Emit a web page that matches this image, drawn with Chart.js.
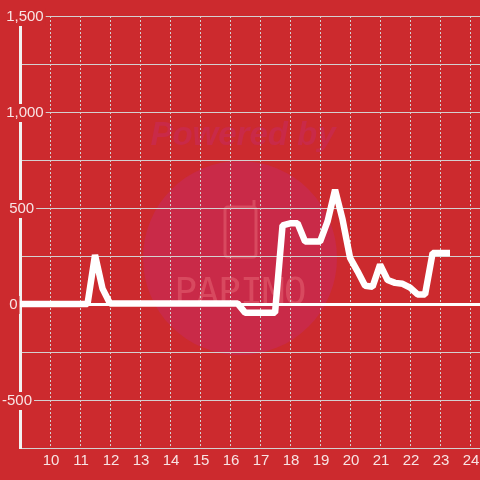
<!DOCTYPE html>
<html lang="en">
<head>
  <meta charset="UTF-8" />
  <title>Chart</title>
  <script src="https://cdn.jsdelivr.net/npm/chart.js"></script>
  <style>
    html, body { margin: 0; padding: 0; background: #cc2a2e; }
    canvas { display: block; }
  </style>
</head>
<body>
  <canvas id="chart" width="480" height="480"></canvas>
  <script>
    const hours = [8.75, 11.25, 11.5, 11.75, 12, 16.25, 16.5, 17.5, 17.75, 18, 18.25, 18.5, 19, 19.25, 19.5, 19.75, 20, 20.25, 20.5, 20.75, 21, 21.25, 21.5, 21.75, 22, 22.25, 22.5, 22.75, 23, 23.33];
    const values = [0, 0, 255, 80, 3, 3, -45, -45, 410, 420, 420, 325, 325, 430, 595, 440, 240, 170, 95, 90, 205, 125, 110, 105, 85, 50, 50, 265, 265, 265];
    const yLabels = { '1500': ' 1,500', '1000': ' 1,000', '500': ' \u2009500', '0': ' \u20090', '-500': '-500' };

    const bg = '#cc2a2e';
    const gridColor = '#d4d0d0';
    const textColor = '#f8e4e4';

    // faint logo behind the grid
    const watermark = {
      id: 'watermark',
      beforeDraw(chart) {
        const ctx = chart.ctx;
        ctx.save();
        ctx.fillStyle = bg;
        ctx.fillRect(0, 0, 480, 480);

        ctx.fillStyle = '#c92a48';
        ctx.beginPath();
        ctx.arc(240, 258, 97, 0, Math.PI * 2);
        ctx.fill();

        ctx.font = 'italic bold 33px "Liberation Sans"';
        ctx.textAlign = 'center';
        ctx.textBaseline = 'alphabetic';
        ctx.fillText('Powered by', 243, 145);

        ctx.strokeStyle = '#d8495f';
        ctx.lineWidth = 3;
        ctx.beginPath();
        ctx.roundRect(225, 207, 31, 50, 3);
        ctx.moveTo(254, 207);
        ctx.lineTo(254, 200);
        ctx.stroke();

        ctx.fillStyle = '#d8495f';
        ctx.font = '38px "DejaVu Sans Mono"';
        ctx.letterSpacing = '-1px';
        ctx.fillText('PAPIMO', 240, 304);
        ctx.restore();
      }
    };

    new Chart(document.getElementById('chart'), {
      type: 'line',
      data: {
        datasets: [{
          data: hours.map((h, i) => ({ x: h, y: values[i] })),
          borderColor: '#ffffff',
          borderWidth: 6.5,
          borderJoinStyle: 'bevel',
          pointRadius: 0,
          tension: 0,
          fill: false,
          clip: false
        }]
      },
      options: {
        responsive: false,
        animation: false,
        layout: { padding: { top: 16 } },
        plugins: { legend: { display: false }, tooltip: { enabled: false } },
        scales: {
          x: {
            type: 'linear',
            min: 9,
            max: 24.33,
            afterFit(scale) {
              scale.height = 32;
              scale.paddingLeft = 0;
              scale.paddingRight = 0;
            },
            border: { display: false, dash: [2, 2] },
            grid: {
              color: ctx => ctx.tick && ctx.tick.value === 9 ? 'transparent' : gridColor,
              lineWidth: 1,
              drawTicks: false
            },
            ticks: {
              stepSize: 1,
              includeBounds: false,
              maxRotation: 0,
              autoSkip: false,
              padding: 4,
              labelOffset: 1,
              color: textColor,
              font: { family: '"Liberation Sans"', size: 15 },
              callback: v => v === 9 ? '' : String(v)
            }
          },
          y: {
            min: -750,
            max: 1500,
            afterFit(scale) { scale.width = 20; },
            border: { display: true, color: '#f2f2f2', width: 3 },
            grid: {
              color: ctx => ctx.tick && ctx.tick.value === 0 ? '#ffffff' : gridColor,
              lineWidth: ctx => ctx.tick && ctx.tick.value === 0 ? 3 : 1,
              drawTicks: false
            },
            ticks: {
              stepSize: 250,
              mirror: true,
              padding: -18,
              labelOffset: 1,
              z: 1,
              autoSkip: false,
              color: textColor,
              font: { family: '"Liberation Sans"', size: 15 },
              showLabelBackdrop: true,
              backdropColor: ctx => yLabels[ctx.tick.value] ? bg : 'transparent',
              backdropPadding: { x: 2, y: 0 },
              callback: v => yLabels[v] || ''
            }
          }
        }
      },
      plugins: [watermark]
    });
  </script>
</body>
</html>
